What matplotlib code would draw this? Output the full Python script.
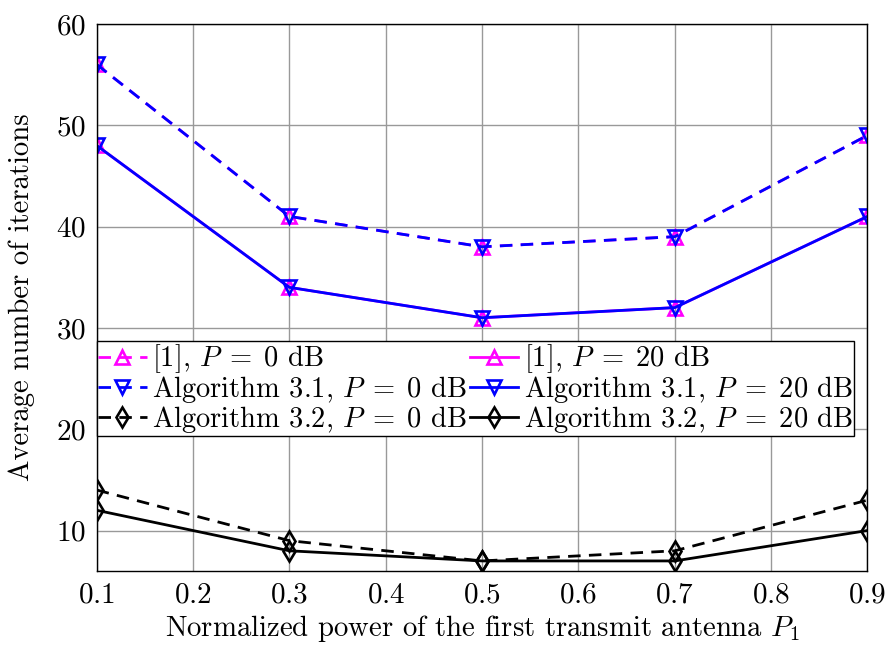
import matplotlib
matplotlib.use("Agg")
from matplotlib import pyplot as plt

plt.rcParams["font.family"] = "serif"
plt.rcParams["font.serif"] = ["cmr10"]
plt.rcParams["mathtext.fontset"] = "cm"
plt.rcParams["axes.formatter.use_mathtext"] = True

p1 = [0.1, 0.3, 0.5, 0.7, 0.9]

ref_p0 = [56, 41, 38, 39, 49]
ref_p20 = [48, 34, 31, 32, 41]
alg31_p0 = [56, 41, 38, 39, 49]
alg31_p20 = [48, 34, 31, 32, 41]
alg32_p0 = [14, 9, 7, 8, 13]
alg32_p20 = [12, 8, 7, 7, 10]

fig, ax = plt.subplots(figsize=(8.87, 6.46), dpi=100)
fig.subplots_adjust(left=0.109, right=0.978, top=0.963, bottom=0.116)

lw = 2.0
ms = 10
dash = (0, (4.5, 3))
ax.plot(p1, ref_p0, color="magenta", ls=dash, lw=lw, marker="^", ms=ms,
        mfc="none", mew=1.9, label=r"[1], $P\;=\;0$ dB")
ax.plot(p1, alg31_p0, color="blue", ls=dash, lw=lw, marker="v", ms=ms,
        mfc="none", mew=1.9, label=r"Algorithm 3.1, $P\;=\;0$ dB")
ax.plot(p1, alg32_p0, color="black", ls=dash, lw=lw, marker="d", ms=ms,
        mfc="none", mew=1.9, label=r"Algorithm 3.2, $P\;=\;0$ dB")
ax.plot(p1, ref_p20, color="magenta", ls="-", lw=lw, marker="^", ms=ms,
        mfc="none", mew=1.9, label=r"[1], $P\;=\;20$ dB")
ax.plot(p1, alg31_p20, color="blue", ls="-", lw=lw, marker="v", ms=ms,
        mfc="none", mew=1.9, label=r"Algorithm 3.1, $P\;=\;20$ dB")
ax.plot(p1, alg32_p20, color="black", ls="-", lw=lw, marker="d", ms=ms,
        mfc="none", mew=1.9, label=r"Algorithm 3.2, $P\;=\;20$ dB")

ax.set_xlim(0.1, 0.9)
ax.set_ylim(6, 60)
ax.set_xticks([0.1, 0.2, 0.3, 0.4, 0.5, 0.6, 0.7, 0.8, 0.9])
ax.set_yticks([10, 20, 30, 40, 50, 60])
ax.grid(True, color="#999999", lw=1.0)
ax.tick_params(labelsize=21, direction="in", length=0, pad=8)
for s in ax.spines.values():
    s.set_linewidth(1.0)

ax.set_xlabel(r"Normalized power of the first transmit antenna $P_1$", fontsize=20.7, labelpad=3)
ax.set_ylabel("Average number of iterations", fontsize=20.7, labelpad=15)

leg = ax.legend(ncol=2, loc="upper left", bbox_to_anchor=(0.0, 0.42), fontsize=20.5,
                frameon=True, fancybox=False, edgecolor="black", framealpha=1,
                handlelength=1.7, handletextpad=0.2, columnspacing=0.1,
                labelspacing=-0.05, borderpad=0.05, borderaxespad=0.0)
leg.get_frame().set_linewidth(1.0)

fig.savefig("out.png", dpi=100)
